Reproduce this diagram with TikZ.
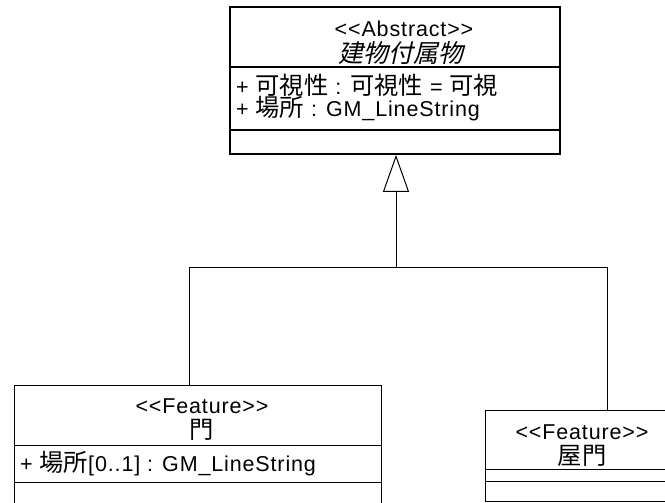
\documentclass[tikz,border=0pt]{standalone}
\usepackage{fontspec}
\setmainfont{Liberation Sans}[Ligatures=TeXOff, LetterSpace=4]
\newfontfamily\cjk{Noto Sans CJK JP}[Scale=1.13]
\newfontfamily\cjksl{Noto Sans CJK JP}[Scale=1.16,FakeSlant=0.22]
\usetikzlibrary{arrows.meta}
\tikzset{
  classbox/.style={draw, rectangle, inner sep=0pt, line width=1pt},
  heavybox/.style={classbox, line width=1.7pt},
  label/.style={inner sep=0pt, font=\fontsize{21.5}{24}\selectfont},
  title/.style={label, align=center, anchor=base, font=\fontsize{21.5}{24.5}\selectfont},
  attr/.style={label, anchor=west},
  link/.style={line width=1pt},
  gen/.style={link, -{Triangle[open, length=37pt, width=26pt, line width=1pt]}},
}
\begin{document}
\begin{tikzpicture}[x=1pt, y=-1pt]
\useasboundingbox (0,0) rectangle (665,503);

% abstract parent class
\node[heavybox, minimum width=330pt, minimum height=147pt] (abs) at (395,80.5) {};
\draw[line width=1.2pt] (abs.west |- 0,67) -- (abs.east |- 0,67);
\draw[line width=1.2pt] (abs.west |- 0,130) -- (abs.east |- 0,130);
\node[title, font=\fontsize{21.5}{26}\selectfont] (abst) at (401,63)
  {\hspace*{6pt}<<Abstract>>\\{\cjksl 建物付属物}};
\node[attr] (absa1) at (236,85) {+ {\cjk 可視性} : {\cjk 可視性} = {\cjk 可視}};
\node[attr] (absa2) at (236,109) {+ {\cjk 場所} : GM\_LineString};

% class 門
\node[classbox, minimum width=367pt, minimum height=130pt] (mon) at (197.5,450) {};
\draw[link] (mon.west |- 0,445) -- (mon.east |- 0,445);
\draw[link] (mon.west |- 0,482) -- (mon.east |- 0,482);
\node[title] (mont) at (202,438) {<<Feature>>\\{\cjk 門}};
\node[attr] (mona1) at (20,464) {+ {\cjk 場所}[0..1] : GM\_LineString};

% class 屋門
\node[classbox, minimum width=194pt, minimum height=91pt] (okumon) at (582,455.5) {};
\draw[link] (okumon.west |- 0,469) -- (okumon.east |- 0,469);
\draw[link] (okumon.west |- 0,481) -- (okumon.east |- 0,481);
\node[title] (okut) at (582,464) {<<Feature>>\\{\cjk 屋門}};

% generalization tree
\coordinate (j) at (396,267);
\coordinate (jl) at (189,267);
\coordinate (jr) at (607,267);
\draw[link] (mon.north -| jl) -- (jl) -- (jr) -- (okumon.north -| jr);
\draw[gen] (j) -- (abs.south -| j);
\end{tikzpicture}
\end{document}
